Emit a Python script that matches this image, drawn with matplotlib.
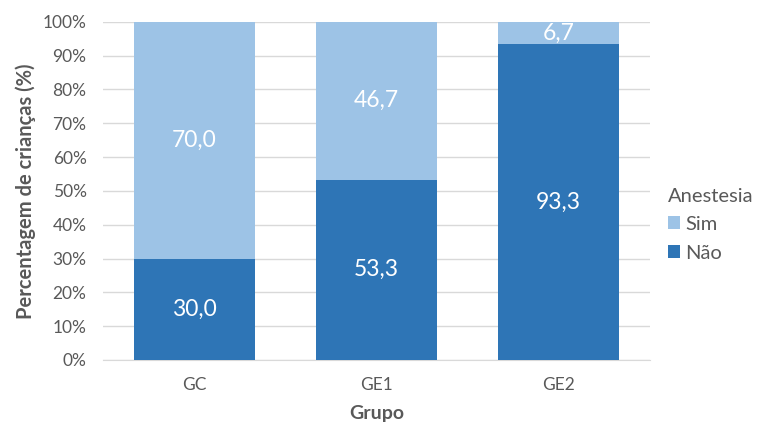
import matplotlib.pyplot as plt
from matplotlib.ticker import PercentFormatter

grupos = ["GC", "GE1", "GE2"]
nao = [30.0, 53.3, 93.3]
sim = [70.0, 46.7, 6.7]

cor_nao = "#2E75B6"
cor_sim = "#9DC3E6"
cinza = "#595959"

plt.rcParams['font.family'] = ['Lato', 'DejaVu Sans']

fig = plt.figure(figsize=(7.59, 4.28), dpi=100)
ax = fig.add_axes([0.136, 0.159, 0.72, 0.79])

x = range(len(grupos))
b_nao = ax.bar(x, nao, width=0.665, color=cor_nao, label="Não", zorder=3)
b_sim = ax.bar(x, sim, width=0.665, bottom=nao, color=cor_sim, label="Sim", zorder=3)

# rotulos dentro das barras
for i in x:
    ax.text(i, nao[i] / 2, f"{nao[i]:.1f}".replace(".", ","), ha="center", va="center",
            color="white", fontsize=16.5, zorder=4)
    ax.text(i, nao[i] + sim[i] / 2, f"{sim[i]:.1f}".replace(".", ","), ha="center", va="center",
            color="white", fontsize=16.5, zorder=4)

ax.set_xlim(-0.5, 2.5)
ax.set_ylim(0, 100)
ax.set_yticks(range(0, 101, 10))
ax.yaxis.set_major_formatter(PercentFormatter(decimals=0))
ax.set_xticks(list(x))
ax.set_xticklabels(grupos)
ax.grid(axis="y", color="#D9D9D9", linewidth=1, zorder=0)
for s in ["top", "right", "left"]:
    ax.spines[s].set_visible(False)
ax.spines["bottom"].set_color("#D9D9D9")
ax.tick_params(length=0, colors=cinza, labelsize=12.5)
ax.tick_params(axis="x", pad=12)
ax.tick_params(axis="y", pad=12)

ax.set_xlabel("Grupo", fontsize=14, fontweight="bold", color=cinza, labelpad=9)
ax.set_ylabel("Percentagem de crianças (%)", fontsize=14.5, fontweight="bold", color=cinza, labelpad=5)

leg = ax.legend(handles=[b_sim, b_nao], title="Anestesia", loc="center left",
                bbox_to_anchor=(1.0, 0.40), frameon=False, fontsize=14.5,
                title_fontsize=14.5, handlelength=0.6, handleheight=0.6,
                handletextpad=0.25, labelspacing=0.6, labelcolor=cinza)
leg.get_title().set_color(cinza)
leg._legend_box.align = "left"
leg._legend_box.sep = 8

fig.savefig("out.png", dpi=100)
